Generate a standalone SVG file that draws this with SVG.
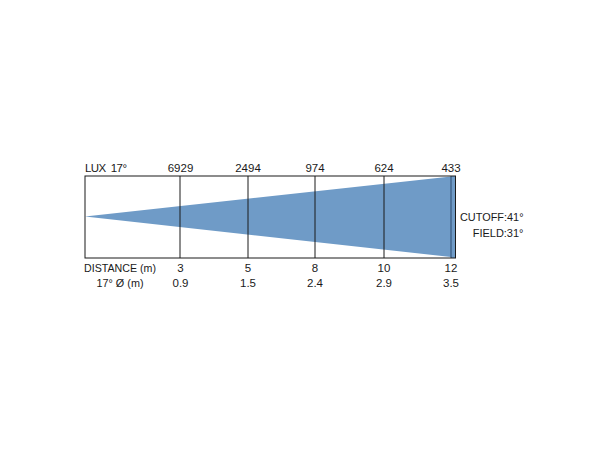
<svg xmlns="http://www.w3.org/2000/svg" width="610" height="450" viewBox="0 0 610 450">
<style>
text{font-family:"Liberation Sans",Arial,sans-serif;font-size:11.5px;fill:#1a1a1a}
.c{text-anchor:middle}
.r{text-anchor:end}
.v{stroke:#1a1a1a;stroke-width:1;fill:none}
</style>
<rect width="610" height="450" fill="#fff"/>
<g id="beam">
<polygon points="85,216.5 451,176.5 451,257" fill="#6f9bc7"/>
<rect x="451" y="176" width="4.5" height="82" fill="#6f9bc7"/>
<line x1="451" y1="176" x2="451" y2="258" stroke="#2c4a6e" stroke-width="1"/>
</g>
<g id="frame">
<rect x="85" y="176" width="370.5" height="82" class="v"/>
</g>
<g id="connectors">
<line x1="180" y1="176" x2="180" y2="258" class="v"/>
<line x1="248" y1="176" x2="248" y2="258" class="v"/>
<line x1="315" y1="176" x2="315" y2="258" class="v"/>
<line x1="384" y1="176" x2="384" y2="258" class="v"/>
</g>
<g id="lux">
<text x="85" y="171.5" xml:space="preserve" textLength="42" lengthAdjust="spacing">LUX  17°</text>
<text x="180.5" y="171.5" class="c">6929</text>
<text x="248" y="171.5" class="c">2494</text>
<text x="315" y="171.5" class="c">974</text>
<text x="384" y="171.5" class="c">624</text>
<text x="451" y="171.5" class="c">433</text>
</g>
<g id="distance">
<text x="120" y="271.5" class="c" textLength="72" lengthAdjust="spacingAndGlyphs">DISTANCE (m)</text>
<text x="180.5" y="271.5" class="c">3</text>
<text x="248" y="271.5" class="c">5</text>
<text x="315" y="271.5" class="c">8</text>
<text x="384" y="271.5" class="c">10</text>
<text x="451" y="271.5" class="c">12</text>
</g>
<g id="diameter">
<text x="120" y="287" class="c" textLength="47" lengthAdjust="spacingAndGlyphs">17° Ø (m)</text>
<text x="180.5" y="287" class="c">0.9</text>
<text x="248" y="287" class="c">1.5</text>
<text x="315" y="287" class="c">2.4</text>
<text x="384" y="287" class="c">2.9</text>
<text x="451" y="287" class="c">3.5</text>
</g>
<g id="angles">
<text x="523.5" y="221" class="r" textLength="63.5" lengthAdjust="spacingAndGlyphs">CUTOFF:41°</text>
<text x="523.5" y="236.7" class="r" textLength="50.8" lengthAdjust="spacingAndGlyphs">FIELD:31°</text>
</g>
</svg>
